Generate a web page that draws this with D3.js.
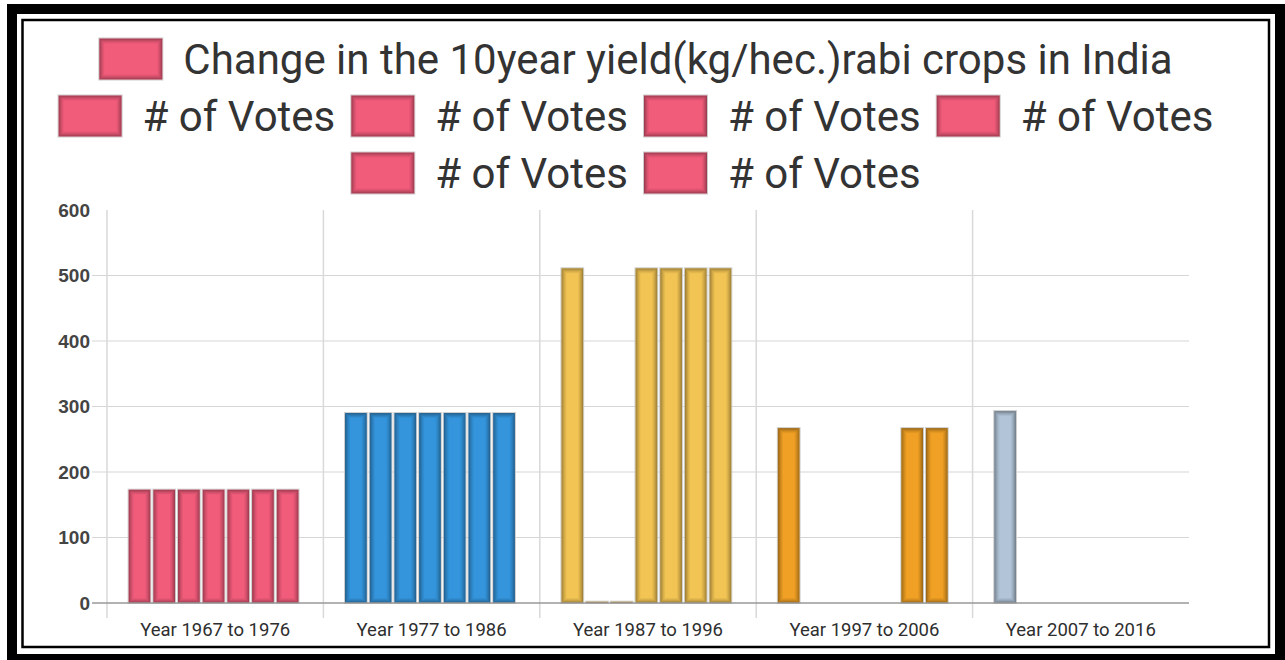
<!DOCTYPE html>
<html>
<head>
<meta charset="utf-8">
<title>rabi crops yield change</title>
<script src="https://d3js.org/d3.v7.min.js"></script>
<style>
  body { margin: 0; background: #ffffff; }
  svg { display: block; }
  .legendText { font-family: Roboto, sans-serif; font-size: 42px; fill: #333333; }
  .yLabel { font-family: "Liberation Sans", Arial, sans-serif; font-size: 19px; font-weight: bold; fill: #444444; }
  .xLabel { font-family: Roboto, sans-serif; font-size: 18.5px; fill: #2e2e2e; }
</style>
</head>
<body>
<div id="holder"></div>
<script>
var categories = ["Year 1967 to 1976", "Year 1977 to 1986", "Year 1987 to 1996", "Year 1997 to 2006", "Year 2007 to 2016"];
var seriesNames = ["Change in the 10year yield(kg/hec.)rabi crops in India", "# of Votes", "# of Votes", "# of Votes", "# of Votes", "# of Votes", "# of Votes"];
// one row per series, one value per category
var values = [
  [173, 290, 511, 267, 293],
  [173, 290, 2, 0, 0],
  [173, 290, 2, 0, 0],
  [173, 290, 511, 0, 0],
  [173, 290, 511, 0, 0],
  [173, 290, 511, 267, 0],
  [173, 290, 511, 267, 0]
];
var categoryColors = ["#f25c7b", "#3495dc", "#f2c453", "#f0a024", "#b2c5d8"];
var yTicks = [0, 100, 200, 300, 400, 500, 600];

var W = 1285, H = 660;
var svg = d3.select("#holder").append("svg")
  .attr("width", W).attr("height", H);

// bevelled box: grey outline, colour fill, then a few inset strokes getting lighter
var insets = [[0.5, 0.34], [1.5, 0.25], [2.5, 0.17], [3.5, 0.1], [4.5, 0.05]];
function bevelBox(g, x, y, w, h, color) {
  g.append("rect").attr("x", x - 0.5).attr("y", y - 0.5)
    .attr("width", w + 1).attr("height", h + 1)
    .attr("fill", "none").attr("stroke", "#cccccc");
  g.append("rect").attr("x", x).attr("y", y).attr("width", w).attr("height", h)
    .attr("fill", color);
  insets.forEach(function(s) {
    if (w > 2 * s[0] && h > 2 * s[0]) {
      g.append("rect").attr("x", x + s[0]).attr("y", y + s[0])
        .attr("width", w - 2 * s[0]).attr("height", h - 2 * s[0])
        .attr("fill", "none").attr("stroke", "#000").attr("stroke-opacity", s[1]);
    }
  });
}

// frames
svg.append("rect").attr("x", 12).attr("y", 9).attr("width", 1268).attr("height", 650)
  .attr("fill", "none").attr("stroke", "#000").attr("stroke-width", 10);
svg.append("rect").attr("x", 22.5).attr("y", 20).attr("width", 1246.5).attr("height", 627)
  .attr("fill", "none").attr("stroke", "#000").attr("stroke-width", 2.5);

// scales
var x0 = d3.scaleBand().domain(categories).range([107, 1189]);
var bw = x0.bandwidth();
var x1 = d3.scaleBand().domain(d3.range(seriesNames.length))
  .range([bw * 0.1, bw * 0.885]).paddingInner(0.12);
var y = d3.scaleLinear().domain([0, 600]).range([603, 210]);

// grid
var grid = svg.append("g");
grid.selectAll(".hgrid").data(yTicks.filter(function(d) { return d > 0 && d < 600; }))
  .enter().append("line")
  .attr("x1", 92).attr("x2", 1189)
  .attr("y1", function(d) { return y(d); }).attr("y2", function(d) { return y(d); })
  .attr("stroke", "#d6d6d6").attr("stroke-width", 1.2);
grid.selectAll(".vgrid").data(categories)
  .enter().append("line")
  .attr("x1", function(d) { return x0(d); }).attr("x2", function(d) { return x0(d); })
  .attr("y1", y(600)).attr("y2", 618)
  .attr("stroke", "#d9d9d9").attr("stroke-width", 1.5);

// y labels
svg.append("g").selectAll("text").data(yTicks).enter().append("text")
  .attr("class", "yLabel")
  .attr("x", 90).attr("y", function(d) { return y(d); })
  .attr("dy", "0.36em").attr("text-anchor", "end")
  .text(function(d) { return d; });

// bars
var barData = [];
values.forEach(function(row, s) {
  row.forEach(function(v, c) {
    if (v > 0) barData.push({ s: s, c: c, v: v });
  });
});
var bars = svg.append("g");
barData.forEach(function(d) {
  bevelBox(bars, x0(categories[d.c]) + x1(d.s), y(d.v), x1.bandwidth(), y(0) - y(d.v), categoryColors[d.c]);
});

// baseline
svg.append("line").attr("x1", 92).attr("x2", 1189).attr("y1", y(0)).attr("y2", y(0))
  .attr("stroke", "#999999").attr("stroke-width", 1.5);

// x labels
svg.append("g").selectAll("text").data(categories).enter().append("text")
  .attr("class", "xLabel")
  .attr("x", function(d) { return x0(d) + bw / 2; })
  .attr("y", 630).attr("dy", "0.35em").attr("text-anchor", "middle")
  .text(function(d) { return d; });

// legend
var boxW = 63, boxH = 41, boxGap = 21, itemGap = 16, maxRow = 1180, rowH = 57, cx = 636, firstRowY = 59;
var legend = svg.append("g");
var items = seriesNames.map(function(name, i) {
  var t = legend.append("text").attr("class", "legendText").text(name);
  var tw = t.node().getComputedTextLength();
  return { name: name, i: i, node: t, w: boxW + boxGap + tw };
});
var rows = [[]], rowW = [0];
items.forEach(function(it) {
  var r = rows.length - 1;
  var add = (rows[r].length ? itemGap : 0) + it.w;
  if (rows[r].length && rowW[r] + add > maxRow) {
    rows.push([it]); rowW.push(it.w);
  } else {
    rows[r].push(it); rowW[r] += add;
  }
});
rows.forEach(function(row, r) {
  var xx = cx - rowW[r] / 2;
  var yy = firstRowY + r * rowH;
  row.forEach(function(it) {
    bevelBox(legend, xx, yy - boxH / 2, boxW, boxH, categoryColors[0]);
    it.node.attr("x", xx + boxW + boxGap).attr("y", yy).attr("dy", "0.35em");
    xx += it.w + itemGap;
  });
});
</script>
</body>
</html>
